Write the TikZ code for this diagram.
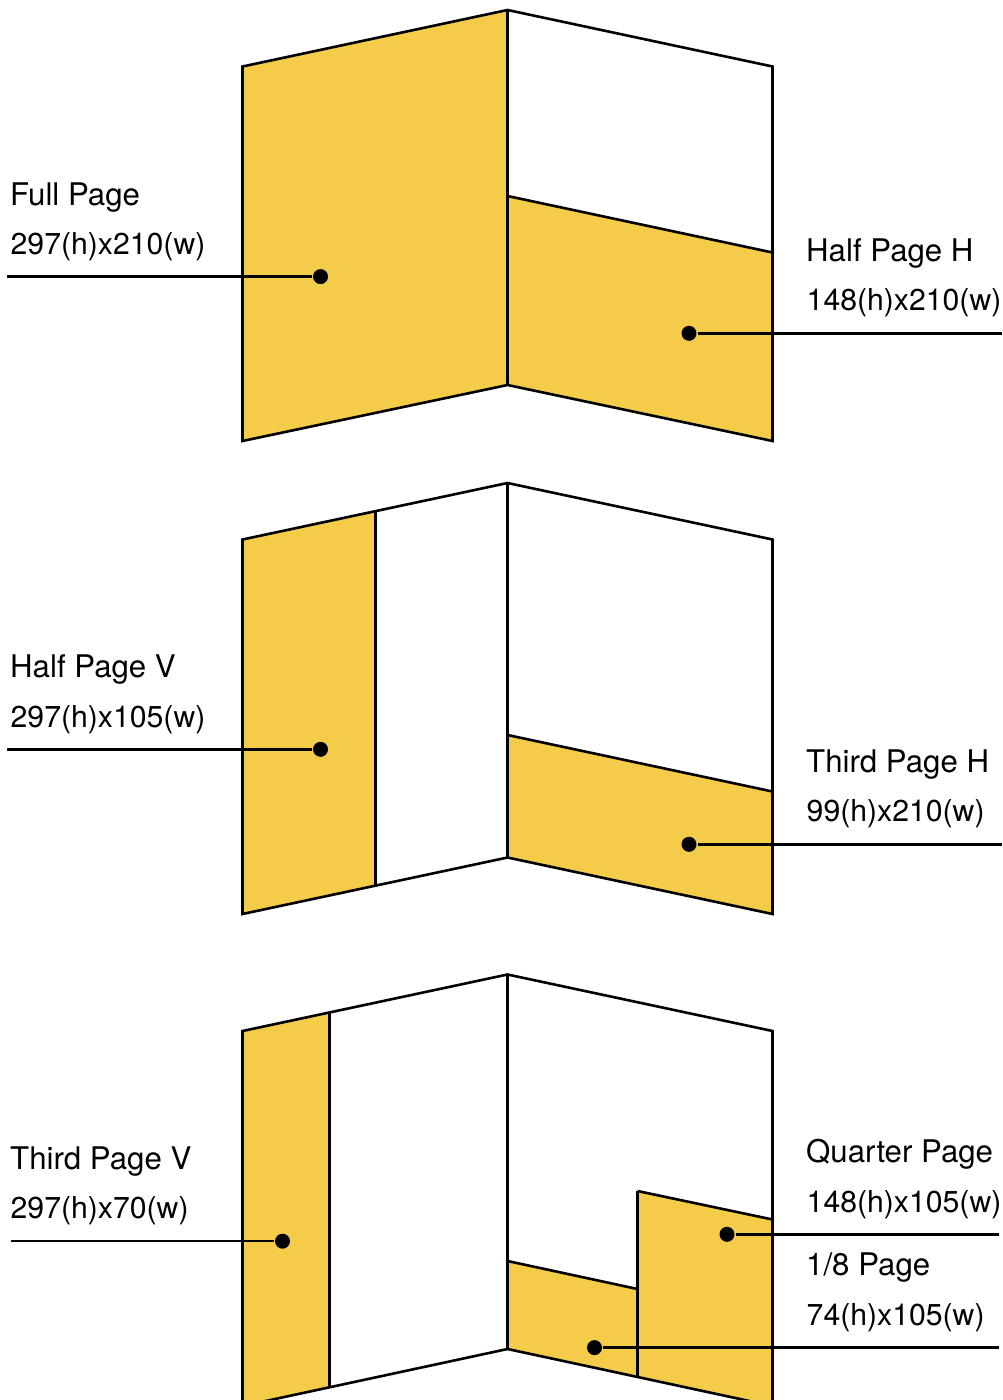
\documentclass[tikz,border=0pt]{standalone}
\usepackage{fontspec}
\setmainfont{TeX Gyre Heros}
\definecolor{panelyellow}{HTML}{F4CC4A}
\tikzset{
  edge/.style={draw=black,line width=2.6pt,line join=miter},
  area/.style={fill=panelyellow,draw=none},
  lead/.style={draw=black,line width=2.4pt,shorten >=1pt},
  dotmark/.style={circle,fill=black,draw=none,inner sep=0pt,minimum size=15pt},
  lab/.style={anchor=base west,inner sep=0pt,font=\fontsize{30.2}{36}\selectfont,text=black},
  ttl/.style={anchor=base west,inner sep=0pt,font=\fontsize{31.2}{36}\selectfont,text=black}
}
\begin{document}
\begin{tikzpicture}[x=1pt,y=-1pt]
\useasboundingbox (0,0) rectangle (1002,1400);
\clip (0,0) rectangle (1002,1400);
% --- panel 1
\fill[area] (242.5,66.5) -- (507.5,10) -- (507.5,385) -- (242.5,441) -- cycle;
\fill[area] (507.5,196) -- (772.5,252.5) -- (772.5,441) -- (507.5,385) -- cycle;
\draw[edge] (242.5,66.5) -- (507.5,10) -- (772.5,66.5) -- (772.5,441) -- (507.5,385) -- (242.5,441) -- cycle;
\draw[edge] (507.5,10) -- (507.5,385);
\draw[edge] (507.5,196) -- (772.5,252.5);
% --- panel 2
\fill[area] (242.5,539.5) -- (375.5,511) -- (375.5,886) -- (242.5,914) -- cycle;
\fill[area] (507.5,735) -- (772.5,791.5) -- (772.5,914) -- (507.5,857.5) -- cycle;
\draw[edge] (242.5,539.5) -- (507.5,483) -- (772.5,539.5) -- (772.5,914) -- (507.5,857.5) -- (242.5,914) -- cycle;
\draw[edge] (507.5,483) -- (507.5,857.5);
\draw[edge] (375.5,511) -- (375.5,886);
\draw[edge] (507.5,735) -- (772.5,791.5);
% --- panel 3
\fill[area] (242.5,1031) -- (329.5,1012.5) -- (329.5,1387.5) -- (242.5,1406) -- cycle;
\fill[area] (507.5,1261) -- (637.5,1289) -- (637.5,1377) -- (507.5,1349) -- cycle;
\fill[area] (637.5,1191) -- (772.5,1219.5) -- (772.5,1406) -- (637.5,1377) -- cycle;
\draw[edge] (242.5,1031) -- (507.5,974.5) -- (772.5,1031) -- (772.5,1406) -- (507.5,1349) -- (242.5,1406) -- cycle;
\draw[edge] (507.5,974.5) -- (507.5,1349);
\draw[edge] (329.5,1012.5) -- (329.5,1387.5);
\draw[edge] (507.5,1261) -- (637.5,1289);
\draw[edge] (637.5,1191) -- (772.5,1219.5);
\draw[edge] (637.5,1191) -- (637.5,1377);
% --- markers
\node[dotmark] (fullD) at (320.5,276.6) {};
\node[dotmark] (halfhD) at (689,333.3) {};
\node[dotmark] (halfvD) at (320.5,749.3) {};
\node[dotmark] (thirdhD) at (689,844.3) {};
\node[dotmark] (thirdvD) at (282.5,1241.2) {};
\node[dotmark] (quarterD) at (727,1234.3) {};
\node[dotmark] (eighthD) at (594.5,1347.6) {};
\coordinate (fullE) at (7,276.6);
\coordinate (halfhE) at (1002,333.3);
\coordinate (halfvE) at (7,749.3);
\coordinate (thirdhE) at (1002,844.3);
\coordinate (thirdvE) at (11,1241.2);
\coordinate (quarterE) at (999,1234.3);
\coordinate (eighthE) at (999,1347.6);
\draw[lead] (fullE) -- (fullD);
\draw[lead] (halfhE) -- (halfhD);
\draw[lead] (halfvE) -- (halfvD);
\draw[lead] (thirdhE) -- (thirdhD);
\draw[lead] (thirdvE) -- (thirdvD);
\draw[lead] (quarterE) -- (quarterD);
\draw[lead] (eighthE) -- (eighthD);
% --- labels
\node[ttl] (l1) at (10,205.2) {Full Page};
\node[lab] (l2) at (10.5,254.5) {297(h)x210(w)};
\node[ttl] (l3) at (806,261.2) {Half Page H};
\node[lab] (l4) at (806.5,310.5) {148(h)x210(w)};
\node[ttl] (l5) at (10,677.2) {Half Page V};
\node[lab] (l6) at (10.5,727.5) {297(h)x105(w)};
\node[ttl] (l7) at (806,772.2) {Third Page H};
\node[lab] (l8) at (806.5,821.5) {99(h)x210(w)};
\node[ttl] (l9) at (10,1169.2) {Third Page V};
\node[lab] (l10) at (10.5,1218.5) {297(h)x70(w)};
\node[ttl] (l11) at (806,1162.2) {Quarter Page};
\node[lab] (l12) at (806.5,1212.5) {148(h)x105(w)};
\node[ttl] (l13) at (806,1275.2) {1/8 Page};
\node[lab] (l14) at (806.5,1325.5) {74(h)x105(w)};
\end{tikzpicture}
\end{document}
